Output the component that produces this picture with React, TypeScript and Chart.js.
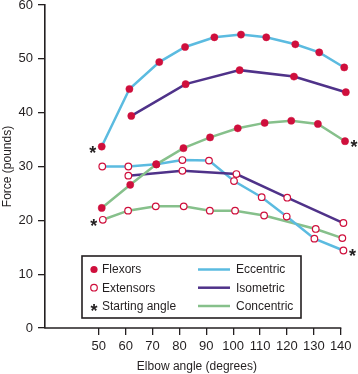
import React, { useEffect, useRef } from "react";
import { Chart, registerables } from "chart.js";

Chart.register(...registerables);

// ---- data ----
const xTickLabels = [50, 60, 70, 80, 90, 100, 110, 120, 130, 140];
const yTickLabels = [0, 10, 20, 30, 40, 50, 60];

const flexEccAngle = [51.1, 61.4, 72.5, 82.1, 93.0, 102.9, 112.3, 123.1, 132.0, 141.3];
const flexEccForce = [33.7, 44.4, 49.4, 52.2, 54.0, 54.5, 54.0, 52.7, 51.2, 48.4];

const flexIsoAngle = [62.1, 82.3, 102.4, 122.6, 141.9];
const flexIsoForce = [39.4, 45.3, 47.9, 46.7, 43.8];

const flexConAngle = [51.1, 61.7, 71.4, 81.5, 91.4, 101.7, 111.7, 121.6, 131.5, 141.6];
const flexConForce = [22.3, 26.6, 30.4, 33.4, 35.4, 37.1, 38.1, 38.5, 37.9, 34.7];

const extEccAngle = [51.3, 61.0, 71.4, 81.1, 91.0, 100.3, 110.6, 119.9, 130.2, 141.0];
const extEccForce = [30.0, 30.0, 30.4, 31.2, 31.1, 27.3, 24.3, 20.7, 16.6, 14.4];

const extIsoAngle = [61.0, 81.1, 101.2, 120.1, 141.0];
const extIsoForce = [28.3, 29.2, 28.6, 24.2, 19.5];

const extConAngle = [51.5, 60.9, 71.2, 81.6, 91.3, 100.7, 111.5, 130.7, 140.6];
const extConForce = [20.1, 21.8, 22.6, 22.6, 21.8, 21.8, 20.9, 18.4, 16.7];

// starting angles: [dataset label, point index, side]
const startingAngles: [string, number, "left" | "right"][] = [
  ["Flexor eccentric", 0, "left"],
  ["Extensor concentric", 0, "left"],
  ["Flexor concentric", 9, "right"],
  ["Extensor eccentric", 9, "right"],
];

const legendMarkers = ["Flexors", "Extensors", "Starting angle"];
const legendLines = ["Eccentric", "Isometric", "Concentric"];

// ---- styles ----
const BLUE = "#5bbbe0";
const PURPLE = "#4f3289";
const GREEN = "#86c08b";
const RED = "#cf0f3c";
const INK = "#231f20";
const FONT = "'Liberation Sans', Arial, Helvetica, sans-serif";

const X_MIN = 30;
const X_AXIS_END = 140;
const X_MAX = 143;

const pts = (xs: number[], ys: number[]) => xs.map((x, i) => ({ x, y: ys[i] }));

function drawStar(ctx: CanvasRenderingContext2D, x: number, y: number) {
  ctx.save();
  ctx.fillStyle = INK;
  ctx.font = `bold 18px ${FONT}`;
  ctx.textAlign = "center";
  ctx.textBaseline = "alphabetic";
  const m = ctx.measureText("*");
  const asc = m.actualBoundingBoxAscent;
  const desc = m.actualBoundingBoxDescent;
  ctx.fillText("*", x, y - (desc - asc) / 2);
  ctx.restore();
}

const overlayPlugin = {
  id: "overlay",
  beforeDatasetsDraw(chart: any) {
    // x-axis baseline ending at the last tick
    const ctx: CanvasRenderingContext2D = chart.ctx;
    const xs = chart.scales.x;
    const ca = chart.chartArea;
    ctx.save();
    ctx.strokeStyle = INK;
    ctx.lineWidth = 1.6;
    ctx.beginPath();
    ctx.moveTo(ca.left - 0.8, ca.bottom);
    ctx.lineTo(xs.getPixelForValue(X_AXIS_END) + 0.6, ca.bottom);
    ctx.stroke();
    ctx.restore();
  },
  afterDatasetsDraw(chart: any) {
    const ctx: CanvasRenderingContext2D = chart.ctx;
    // starting-angle asterisks
    startingAngles.forEach(([label, idx, side]) => {
      const di = chart.data.datasets.findIndex((d: any) => d.label === label);
      const el = chart.getDatasetMeta(di).data[idx];
      if (!el) return;
      const dx = side === "left" ? -9 : 9;
      drawStar(ctx, el.x + dx, el.y + 2.5);
    });

    // legend box
    const ca = chart.chartArea;
    const left = ca.left + 37;
    const top = ca.bottom - 72;
    const w = 219;
    const h = 62;
    ctx.save();
    ctx.fillStyle = "#ffffff";
    ctx.fillRect(left, top, w, h);
    ctx.strokeStyle = INK;
    ctx.lineWidth = 1.6;
    ctx.strokeRect(left, top, w, h);

    const rows = [13.5, 31.7, 50];
    legendMarkers.forEach((t, i) => {
      const y = top + rows[i];
      const mx = left + 12;
      if (i === 0) {
        ctx.beginPath();
        ctx.arc(mx, y, 3.6, 0, Math.PI * 2);
        ctx.fillStyle = RED;
        ctx.fill();
      } else if (i === 1) {
        ctx.beginPath();
        ctx.arc(mx, y, 3.3, 0, Math.PI * 2);
        ctx.fillStyle = "#fff";
        ctx.fill();
        ctx.strokeStyle = RED;
        ctx.lineWidth = 1.2;
        ctx.stroke();
      } else {
        drawStar(ctx, mx, y + 1);
      }
      ctx.fillStyle = INK;
      ctx.font = `12px ${FONT}`;
      ctx.textBaseline = "middle";
      ctx.textAlign = "left";
      ctx.fillText(t, left + 20, y + 0.5);
    });
    const lineColors = [BLUE, PURPLE, GREEN];
    legendLines.forEach((t, i) => {
      const y = top + rows[i];
      ctx.beginPath();
      ctx.moveTo(left + 116, y);
      ctx.lineTo(left + 148, y);
      ctx.strokeStyle = lineColors[i];
      ctx.lineWidth = 2.5;
      ctx.stroke();
      ctx.fillStyle = INK;
      ctx.font = `12px ${FONT}`;
      ctx.textBaseline = "middle";
      ctx.textAlign = "left";
      ctx.fillText(t, left + 154, y + 0.5);
    });
    ctx.restore();
  },
};

export default function App() {
  const ref = useRef<HTMLCanvasElement>(null);

  useEffect(() => {
    if (!ref.current) return;
    const mk = (label: string, xs: number[], ys: number[], color: string, filled: boolean, order: number) => ({
      label,
      data: pts(xs, ys),
      borderColor: color,
      borderWidth: 2.5,
      showLine: true,
      tension: 0,
      clip: false,
      pointRadius: filled ? 3.6 : 3.3,
      pointBorderWidth: filled ? 0.5 : 1.2,
      pointBackgroundColor: filled ? RED : "#ffffff",
      pointBorderColor: RED,
      order,
    });

    const chart = new Chart(ref.current, {
      type: "scatter",
      data: {
        datasets: [
          mk("Flexor eccentric", flexEccAngle, flexEccForce, BLUE, true, 1),
          mk("Flexor isometric", flexIsoAngle, flexIsoForce, PURPLE, true, 2),
          mk("Flexor concentric", flexConAngle, flexConForce, GREEN, true, 0),
          mk("Extensor eccentric", extEccAngle, extEccForce, BLUE, false, 4),
          mk("Extensor isometric", extIsoAngle, extIsoForce, PURPLE, false, 3),
          mk("Extensor concentric", extConAngle, extConForce, GREEN, false, 5),
        ] as any,
      },
      options: {
        animation: false,
        responsive: false,
        devicePixelRatio: 1,
        layout: { padding: { top: 15, right: 9.2, left: 0, bottom: 0 } },
        plugins: { legend: { display: false }, tooltip: { enabled: false } },
        scales: {
          x: {
            type: "linear",
            min: X_MIN,
            max: X_MAX,
            afterBuildTicks: (s: any) => {
              s.ticks = xTickLabels.map((v) => ({ value: v }));
            },
            afterFit: (s: any) => {
              s.height = 46;
            },
            ticks: {
              color: INK,
              font: { family: FONT, size: 13 },
              padding: 4,
              maxRotation: 0,
              autoSkip: false,
            },
            grid: {
              drawOnChartArea: false,
              drawTicks: true,
              tickLength: 7,
              color: INK,
              lineWidth: 1.3,
            },
            border: { display: false },
            title: {
              display: true,
              text: "Elbow angle (degrees)",
              color: INK,
              font: { family: FONT, size: 12, lineHeight: 1.2 },
              padding: { top: 0, bottom: 0 },
            },
          },
          y: {
            type: "linear",
            min: 0,
            max: 60,
            afterBuildTicks: (s: any) => {
              s.ticks = yTickLabels.map((v) => ({ value: v }));
            },
            afterFit: (s: any) => {
              s.width = 45;
            },
            ticks: {
              color: INK,
              font: { family: FONT, size: 13 },
              padding: 5,
            },
            grid: {
              drawOnChartArea: false,
              drawTicks: true,
              tickLength: 7,
              color: INK,
              lineWidth: 1.3,
            },
            border: { display: true, color: INK, width: 1.6 },
            title: {
              display: true,
              text: "Force (pounds)",
              color: INK,
              font: { family: FONT, size: 12, lineHeight: 1.2 },
              padding: { top: 0, bottom: 0 },
            },
          },
        },
      } as any,
      plugins: [overlayPlugin],
    });
    return () => chart.destroy();
  }, []);

  return (
    <div style={{ position: "fixed", left: 0, top: 0, width: 358, height: 374, overflow: "hidden", background: "#fff" }}>
      <canvas ref={ref} width={358} height={384} style={{ position: "absolute", left: 0, top: -10, width: 358, height: 384 }} />
    </div>
  );
}
